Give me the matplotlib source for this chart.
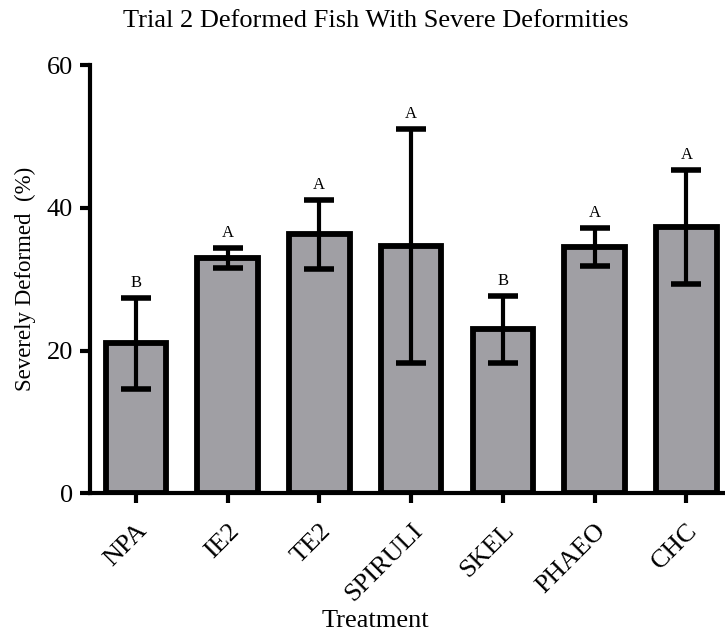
import matplotlib.pyplot as plt
import numpy as np

plt.rcParams['font.family'] = ['Liberation Serif', 'DejaVu Serif']

treatments = ["NPA", "IE2", "TE2", "SPIRULI", "SKEL", "PHAEO", "CHC"]
means = [21.0, 33.0, 36.3, 34.6, 23.0, 34.5, 37.3]
errs = [6.4, 1.4, 4.8, 16.4, 4.7, 2.7, 8.0]
letters = ["B", "A", "A", "A", "B", "A", "A"]

fig = plt.figure(figsize=(7.25, 6.34), dpi=100)
ax = fig.add_axes([0.124, 0.222, 0.876, 0.675])

x = np.arange(len(treatments))
ax.bar(x, means, width=0.66, color="#a09fa4", edgecolor="black", linewidth=4.2, zorder=2)
ax.errorbar(x, means, yerr=errs, fmt="none", ecolor="black", elinewidth=3,
            capsize=11, capthick=4, zorder=3)

for xi, m, e, lab in zip(x, means, errs, letters):
    ax.text(xi, m + e + 1.0, lab, ha="center", va="bottom", fontsize=12)

ax.set_xlim(-0.5, 6.42)
ax.set_ylim(0, 60)
ax.set_yticks([0, 20, 40, 60])
ax.set_xticks(x)
ax.set_xticklabels(treatments, rotation=45, ha="right", rotation_mode="anchor", fontsize=19)
ax.tick_params(axis="y", labelsize=19, width=3, length=7, pad=5)
ax.tick_params(axis="x", width=3, length=7, pad=12)

for s in ["top", "right"]:
    ax.spines[s].set_visible(False)
for s in ["left", "bottom"]:
    ax.spines[s].set_linewidth(3)

ax.set_ylabel("Severely Deformed  (%)", fontsize=16.5, labelpad=8)
ax.set_xlabel("Treatment", fontsize=19)
ax.xaxis.set_label_coords(0.45, -0.272)
fig.suptitle("Trial 2 Deformed Fish With Severe Deformities", x=0.519, y=0.985, fontsize=19)

fig.savefig("out.png", dpi=100)
